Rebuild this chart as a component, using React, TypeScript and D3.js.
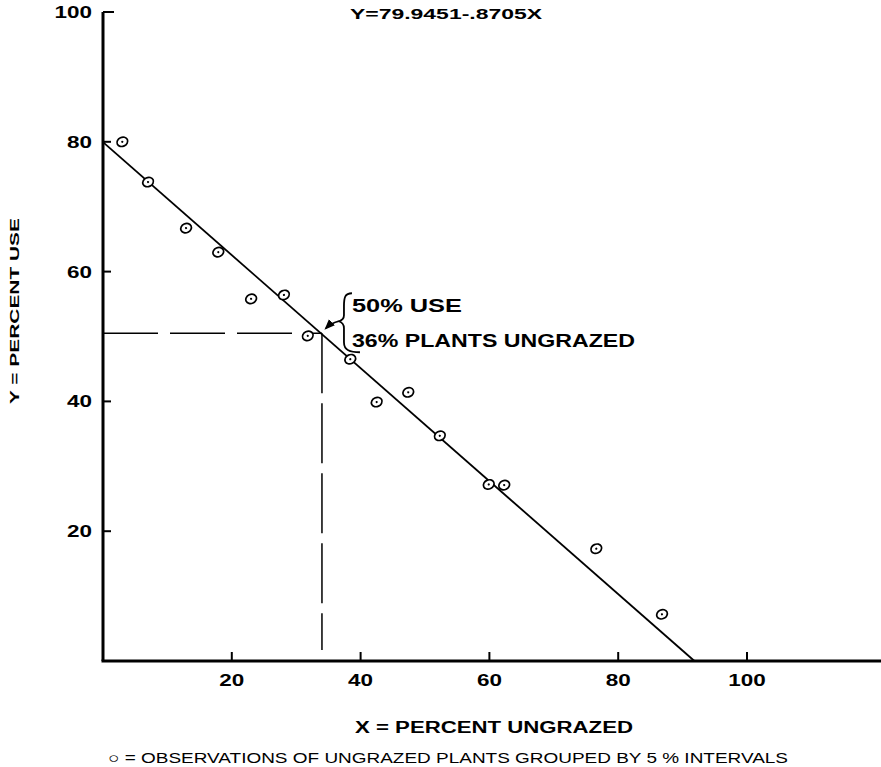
import React from "react";
import * as d3 from "d3";

// observations of ungrazed plants grouped by 5% intervals
const pctUngrazed = [3, 7, 12.9, 17.9, 23, 28.1, 31.8, 38.4, 42.5, 47.4, 52.3, 59.9, 62.3, 76.6, 86.8];
const pctUse = [80, 73.8, 66.7, 63.0, 55.8, 56.4, 50.1, 46.5, 39.9, 41.4, 34.7, 27.2, 27.1, 17.3, 7.2];

const xTicks = [20, 40, 60, 80, 100];
const yTicks = [20, 40, 60, 80, 100];

const intercept = 79.9451;
const slope = -0.8705;
const readUse = 50.5;
const readUngrazed = 34;

const W = 881;
const H = 767;
const FONT = "'Liberation Sans', Arial, sans-serif";

// width of a spaced-out tick label
const labelWidth = (t: number) => String(t).length * 12.5;

export default function App() {
  const x = d3.scaleLinear().domain([0, 100]).range([103, 747]);
  const y = d3.scaleLinear().domain([0, 100]).range([661, 12]);

  const xEnd = -intercept / slope;
  const regLine = d3.line<number>()
    .x((d) => x(d))
    .y((d) => y(intercept + slope * d))([0, xEnd]);

  const cx = x(readUngrazed);
  const cy = y(readUse);

  // brace and arrow, placed relative to the reading point
  const bx = cx + 22;
  const brace = `M ${bx + 8} ${cy - 40} C ${bx + 1} ${cy - 40}, ${bx} ${cy - 36}, ${bx} ${cy - 27}
    L ${bx} ${cy - 18} C ${bx} ${cy - 15}, ${bx - 2} ${cy - 13}, ${bx - 5} ${cy - 12}
    C ${bx - 2} ${cy - 11}, ${bx} ${cy - 9}, ${bx} ${cy - 5}
    L ${bx} ${cy + 9} C ${bx} ${cy + 17}, ${bx + 6} ${cy + 19}, ${bx + 16} ${cy + 19}`;
  const arrow = `M ${bx - 5} ${cy - 12} C ${bx - 10} ${cy - 11}, ${bx - 14} ${cy - 9}, ${bx - 18} ${cy - 5}`;

  return (
    <svg width={W} height={H} style={{ position: "absolute", left: 0, top: 0, background: "#fff" }}>
      <defs>
        <marker id="ah" viewBox="0 0 10 10" refX="8" refY="5" markerWidth="7" markerHeight="7" orient="auto">
          <path d="M0,1 L10,5 L0,9 z" fill="#000" />
        </marker>
      </defs>

      {/* title equation */}
      <text x={446} y={19} textAnchor="middle" fontFamily={FONT} fontWeight="bold" fontSize={14}
        textLength={192} lengthAdjust="spacingAndGlyphs">Y=79.9451-.8705X</text>

      {/* axes */}
      <line x1={x(0)} y1={y(0)} x2={x(0)} y2={y(100)} stroke="#000" strokeWidth={3} />
      <line x1={x(0) - 1.5} y1={y(0)} x2={W} y2={y(0)} stroke="#000" strokeWidth={3} />

      {yTicks.map((t) => (
        <g key={"y" + t}>
          <line x1={x(0)} x2={x(0) + (t === 100 ? 11 : 8)} y1={y(t)} y2={y(t)} stroke="#000" strokeWidth={2} />
          <text x={x(0) - 11} y={y(t) + 6} textAnchor="end" fontFamily={FONT} fontWeight="bold"
            fontSize={17} textLength={labelWidth(t)} lengthAdjust="spacingAndGlyphs">{t}</text>
        </g>
      ))}

      {xTicks.map((t) => (
        <g key={"x" + t}>
          <line x1={x(t)} x2={x(t)} y1={y(0)} y2={y(0) - 9} stroke="#000" strokeWidth={2} />
          <text x={x(t)} y={y(0) + 25} textAnchor="middle" fontFamily={FONT} fontWeight="bold"
            fontSize={17} textLength={labelWidth(t)} lengthAdjust="spacingAndGlyphs">{t}</text>
        </g>
      ))}

      {/* axis titles */}
      <text transform={`translate(19,311) rotate(-90)`} textAnchor="middle" fontFamily={FONT}
        fontWeight="bold" fontSize={13} textLength={186} lengthAdjust="spacingAndGlyphs">Y = PERCENT  USE</text>
      <text x={494} y={733} textAnchor="middle" fontFamily={FONT} fontWeight="bold" fontSize={16}
        textLength={278} lengthAdjust="spacingAndGlyphs">X = PERCENT   UNGRAZED</text>
      <text x={448} y={763} textAnchor="middle" fontFamily={FONT} fontSize={15}
        textLength={680} lengthAdjust="spacingAndGlyphs">○ = OBSERVATIONS OF UNGRAZED PLANTS GROUPED BY 5 % INTERVALS</text>

      {/* dashed reading lines */}
      <line x1={x(0)} y1={cy} x2={cx} y2={cy} stroke="#000" strokeWidth={1.5} strokeDasharray="55,12" />
      <line x1={cx} y1={cy} x2={cx} y2={y(0) - 11} stroke="#000" strokeWidth={1.5} strokeDasharray="60,10" />

      {/* regression line */}
      <path d={regLine ?? ""} fill="none" stroke="#000" strokeWidth={1.8} />

      {/* observations */}
      {pctUngrazed.map((d, i) => (
        <g key={i} transform={`translate(${x(d)},${y(pctUse[i])}) rotate(-25)`}>
          <ellipse rx={5.5} ry={4.5} fill="#fff" stroke="#000" strokeWidth={1.7} />
          <circle r={1.1} fill="#000" />
        </g>
      ))}

      {/* annotation */}
      <path d={brace} fill="none" stroke="#000" strokeWidth={1.8} />
      <path d={arrow} fill="none" stroke="#000" strokeWidth={1.5} markerEnd="url(#ah)" />
      <text x={bx + 8} y={cy - 21} fontFamily={FONT} fontWeight="bold" fontSize={18}
        textLength={110} lengthAdjust="spacingAndGlyphs">50% USE</text>
      <text x={bx + 8} y={cy + 14} fontFamily={FONT} fontWeight="bold" fontSize={18}
        textLength={283} lengthAdjust="spacingAndGlyphs">36% PLANTS UNGRAZED</text>
    </svg>
  );
}
